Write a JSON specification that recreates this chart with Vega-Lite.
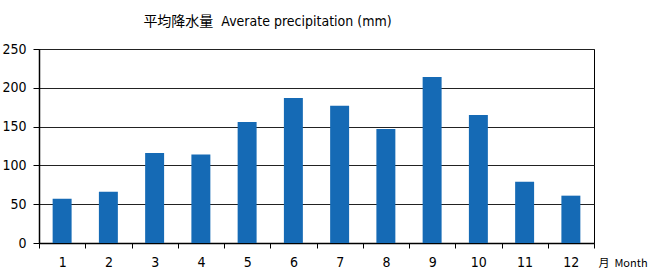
{
  "$schema": "https://vega.github.io/schema/vega-lite/v6.json",
  "width": 555,
  "height": 194,
  "autosize": {"type": "none"},
  "padding": {"left": 39, "top": 49, "right": 56, "bottom": 26},
  "background": "white",
  "title": {
    "text": "平均降水量\u00a0\u00a0Averate precipitation (mm)",
    "font": "DejaVu Sans Condensed, Noto Sans CJK JP",
    "fontSize": 14,
    "fontWeight": "normal",
    "color": "#000",
    "anchor": "middle",
    "frame": "group",
    "dx": -49,
    "offset": 13
  },
  "config": {
    "view": {"stroke": "#000", "strokeWidth": 1},
    "axis": {
      "labelFont": "DejaVu Sans Condensed",
      "labelFontSize": 14,
      "labelColor": "#000",
      "domainColor": "#000",
      "tickColor": "#000"
    }
  },
  "data": {
    "values": [
      {"month": "1", "mm": 57},
      {"month": "2", "mm": 66},
      {"month": "3", "mm": 116},
      {"month": "4", "mm": 114},
      {"month": "5", "mm": 156},
      {"month": "6", "mm": 187},
      {"month": "7", "mm": 177},
      {"month": "8", "mm": 147},
      {"month": "9", "mm": 214},
      {"month": "10", "mm": 165},
      {"month": "11", "mm": 79},
      {"month": "12", "mm": 61}
    ]
  },
  "mark": {"type": "bar", "color": "#156AB5", "width": {"band": 0.41}},
  "encoding": {
    "x": {
      "field": "month",
      "type": "ordinal",
      "sort": null,
      "scale": {"paddingInner": 0, "paddingOuter": 0},
      "axis": {
        "labelAngle": 0,
        "tickBand": "extent",
        "tickSize": 5,
        "labelPadding": 7,
        "domainWidth": 1.5,
        "title": "月\u00a0\u00a0Month",
        "titleFont": "Noto Sans CJK JP",
        "titleFontSize": 11,
        "titleFontWeight": "normal",
        "titleColor": "#000",
        "titleAnchor": "start",
        "titleAlign": "left",
        "titleBaseline": "middle",
        "titleX": 559,
        "titleY": 20
      }
    },
    "y": {
      "field": "mm",
      "type": "quantitative",
      "scale": {"domain": [0, 250]},
      "axis": {
        "values": [0, 50, 100, 150, 200, 250],
        "title": null,
        "tickSize": 6,
        "labelPadding": 7,
        "domainWidth": 1.5,
        "gridColor": "#222",
        "gridOpacity": 1,
        "gridWidth": 1
      }
    }
  }
}
